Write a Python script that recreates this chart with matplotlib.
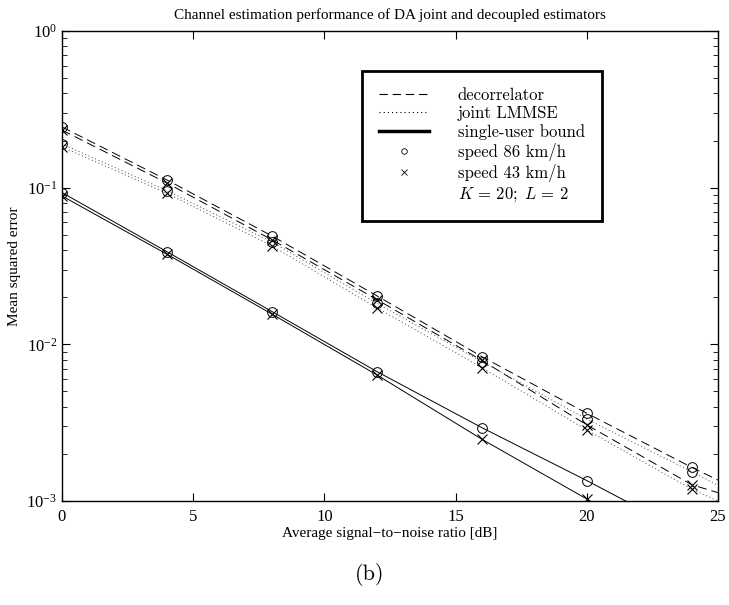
import numpy as np
import matplotlib
matplotlib.use("Agg")
import matplotlib.pyplot as plt
from matplotlib.lines import Line2D
from matplotlib.ticker import LogLocator, LogFormatterMathtext, NullFormatter

plt.rcParams['font.family'] = ['Liberation Serif', 'DejaVu Serif']
plt.rcParams['mathtext.fontset'] = 'stix'
plt.rcParams['lines.scale_dashes'] = False

# ---- data ----
snr_markers = [0, 4, 8, 12, 16, 20, 24]
snr_lines = [0, 4, 8, 12, 16, 20, 24, 25]

decorr_86 = [0.244, 0.112, 0.0492, 0.0204, 0.00835, 0.00363, 0.00164]
decorr_43 = [0.233, 0.107, 0.0465, 0.0193, 0.0079, 0.00306, 0.00127]
joint_86 = [0.190, 0.0957, 0.0450, 0.0183, 0.00776, 0.00333, 0.00154]
joint_43 = [0.182, 0.092, 0.0425, 0.0171, 0.0071, 0.00284, 0.00119]
bound_86 = [0.093, 0.039, 0.0162, 0.0067, 0.00294, 0.00135, 0.00060]
bound_43 = [0.0885, 0.0376, 0.0156, 0.00638, 0.00248, 0.00103, 0.00042]

decorr_86_line = decorr_86 + [0.00136]
decorr_43_line = decorr_43 + [0.00113]
joint_86_line = joint_86 + [0.00126]
joint_43_line = joint_43 + [0.00100]
bound_86_line = bound_86 + [0.00049]
bound_43_line = bound_43 + [0.00033]

title = "Channel estimation performance of DA joint and decoupled estimators"
xlabel = "Average signal\u2212to\u2212noise ratio [dB]"
ylabel = "Mean squared error"
legend_labels = ["decorrelator", "joint LMMSE", "single-user bound",
                 "speed 86 km/h", "speed 43 km/h", r"$K\,=\,20;\;L\,=\,2$"]
xticks = [0, 5, 10, 15, 20, 25]

fig = plt.figure(figsize=(7.29, 6.05), dpi=100)
W, H = 729, 605
ax = fig.add_axes([62 / W, 1 - 501 / H, (718 - 62) / W, (501 - 31) / H])

lw = 0.7
dash = (6.5, 3.6)
dot = (0.8, 1.8)

ax.plot(snr_lines, decorr_86_line, color='k', lw=lw, dashes=dash)
ax.plot(snr_lines, decorr_43_line, color='k', lw=lw, dashes=dash)
ax.plot(snr_lines, joint_86_line, color='0.35', lw=lw, dashes=dot)
ax.plot(snr_lines, joint_43_line, color='0.35', lw=lw, dashes=dot)
ax.plot(snr_lines, bound_86_line, color='k', lw=lw)
ax.plot(snr_lines, bound_43_line, color='k', lw=lw)

for series in (decorr_86, joint_86, bound_86):
    ax.plot(snr_markers, series, ls='none', marker='o', ms=7, mfc='none',
            mec='k', mew=0.7)
for series in (decorr_43, joint_43, bound_43):
    ax.plot(snr_markers, series, ls='none', marker='x', ms=7, mec='k', mew=0.8)

ax.set_yscale('log')
ax.set_xlim(0, 25)
ax.set_ylim(1e-3, 1)
ax.set_xticks(xticks)
ax.yaxis.set_major_locator(LogLocator(base=10, numticks=10))
ax.yaxis.set_minor_locator(LogLocator(base=10, subs=np.arange(2, 10), numticks=20))
ax.yaxis.set_major_formatter(LogFormatterMathtext())
ax.yaxis.set_minor_formatter(NullFormatter())
ax.tick_params(which='both', direction='in', top=True, right=True, labelsize=12)
ax.tick_params(axis='x', which='major', pad=6)
ax.tick_params(which='major', length=6, width=0.8)
ax.tick_params(which='minor', length=3.5, width=0.6)
for s in ax.spines.values():
    s.set_linewidth(1.0)

ax.set_title(title, fontsize=11, pad=9)
ax.set_xlabel(xlabel, fontsize=11, labelpad=1)
ax.set_ylabel(ylabel, fontsize=11, labelpad=4)

handles = [
    Line2D([], [], color='k', lw=0.8, dashes=(6, 3.5)),
    Line2D([], [], color='k', lw=0.8, dashes=(0.8, 2.2)),
    Line2D([], [], color='k', lw=2.5),
    Line2D([], [], ls='none', marker='o', ms=4, mfc='none', mec='k', mew=0.6),
    Line2D([], [], ls='none', marker='x', ms=4, mec='k', mew=0.6),
    Line2D([], [], ls='none'),
]
leg = ax.legend(handles, legend_labels, loc='upper left',
                bbox_to_anchor=(362 / W, 1 - 71 / H), bbox_transform=fig.transFigure,
                frameon=True, fancybox=False, edgecolor='k', framealpha=1,
                handlelength=3.0, handletextpad=1.75, labelspacing=0.18,
                borderpad=1.0, borderaxespad=0,
                prop={'family': 'cmr10', 'size': 12})
leg.get_frame().set_linewidth(2.0)
for t in leg.get_texts():
    t.set_math_fontfamily('cm')

fig.text(370 / W, 1 - 575 / H, "(b)", ha='center', va='center',
         fontsize=16, family='cmr10')

fig.savefig("out.png", dpi=100)
